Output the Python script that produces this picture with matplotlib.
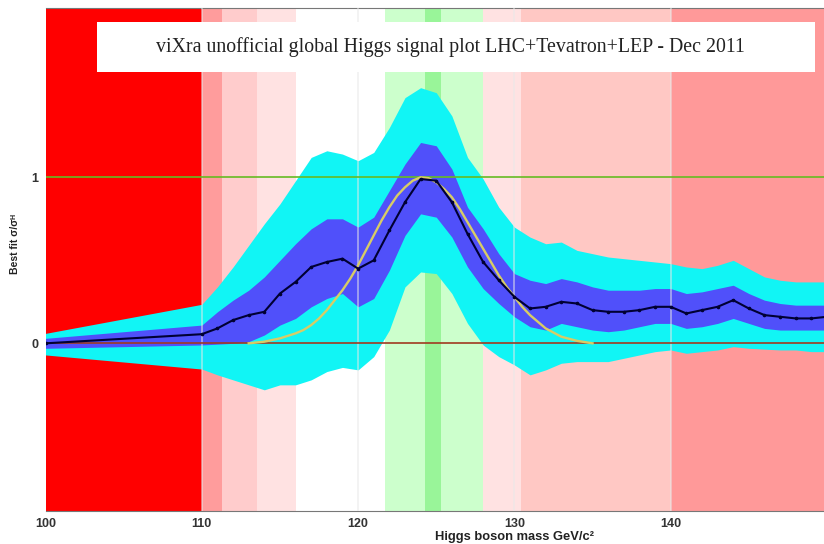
import matplotlib
matplotlib.use('Agg')
import matplotlib.pyplot as plt
from matplotlib.patches import Rectangle

# Higgs mass points [GeV]
mass = [100, 110, 111, 112, 113, 114, 115, 116, 117, 118, 119, 120,
        121, 122, 123, 124, 125, 126, 127, 128, 129, 130, 131, 132,
        133, 134, 135, 136, 137, 138, 139, 140, 141, 142, 143, 144,
        145, 146, 147, 148, 149, 150]

best_fit = [0.0, 0.055, 0.09, 0.14, 0.17, 0.19, 0.30, 0.37, 0.46, 0.49,
            0.51, 0.45, 0.50, 0.68, 0.85, 0.99, 0.98, 0.85, 0.66, 0.49,
            0.38, 0.28, 0.21, 0.22, 0.25, 0.24, 0.20, 0.19, 0.19, 0.20,
            0.22, 0.22, 0.18, 0.20, 0.22, 0.26, 0.21, 0.17, 0.16, 0.15,
            0.15, 0.16]

sig1_hi = [0.03, 0.11, 0.19, 0.26, 0.32, 0.40, 0.50, 0.60, 0.69, 0.75,
           0.75, 0.70, 0.76, 0.92, 1.08, 1.21, 1.19, 1.05, 0.82, 0.69,
           0.54, 0.42, 0.38, 0.36, 0.39, 0.37, 0.34, 0.32, 0.32, 0.32,
           0.33, 0.33, 0.30, 0.31, 0.33, 0.35, 0.30, 0.26, 0.24, 0.23,
           0.23, 0.23]

sig1_lo = [-0.03, -0.01, -0.005, 0.0, 0.01, 0.05, 0.11, 0.15, 0.22, 0.27,
           0.30, 0.22, 0.27, 0.44, 0.65, 0.78, 0.76, 0.64, 0.46, 0.33,
           0.24, 0.16, 0.10, 0.08, 0.12, 0.10, 0.08, 0.07, 0.08, 0.10,
           0.12, 0.12, 0.09, 0.10, 0.12, 0.15, 0.12, 0.09, 0.08, 0.08,
           0.08, 0.08]

sig2_hi = [0.06, 0.235, 0.34, 0.46, 0.59, 0.72, 0.84, 0.98, 1.12, 1.16,
           1.14, 1.10, 1.15, 1.30, 1.48, 1.54, 1.51, 1.37, 1.12, 0.99,
           0.82, 0.70, 0.64, 0.60, 0.61, 0.56, 0.54, 0.52, 0.51, 0.50,
           0.49, 0.48, 0.46, 0.45, 0.47, 0.50, 0.45, 0.40, 0.38, 0.37,
           0.37, 0.37]

sig2_lo = [-0.07, -0.155, -0.19, -0.22, -0.25, -0.28, -0.25, -0.25, -0.22,
           -0.17, -0.145, -0.16, -0.08, 0.08, 0.34, 0.43, 0.42, 0.30, 0.12,
           -0.01, -0.08, -0.13, -0.19, -0.16, -0.12, -0.11, -0.11, -0.11,
           -0.09, -0.07, -0.05, -0.04, -0.06, -0.05, -0.04, -0.02, -0.03,
           -0.035, -0.04, -0.04, -0.05, -0.05]

# expected signal shape for a 124 GeV Higgs
sig_mass = [113, 114, 115, 116, 116.5, 117, 117.5, 118, 118.5, 119, 119.5,
            120, 120.5, 121, 121.5, 122, 122.5, 123, 123.5, 124, 124.5,
            125, 125.5, 126, 126.5, 127, 127.5, 128, 128.5, 129, 129.5,
            130, 130.5, 131, 131.5, 132, 133, 134, 135]
sig_shape = [0.0, 0.01, 0.03, 0.06, 0.08, 0.11, 0.15, 0.20, 0.26, 0.32,
             0.39, 0.47, 0.56, 0.65, 0.74, 0.82, 0.89, 0.94, 0.98, 1.0,
             0.995, 0.97, 0.93, 0.88, 0.81, 0.73, 0.65, 0.57, 0.49, 0.41,
             0.34, 0.28, 0.22, 0.17, 0.13, 0.09, 0.04, 0.015, 0.0]

# exclusion shading
band_edges = [100, 110, 111.3, 113.5, 116.0, 121.7, 124.3, 125.3, 128.0,
              130.4, 140.0, 150]
band_colors = ['#ff0000', '#ff9c9c', '#ffcccc', '#ffe2e2', '#ffffff',
               '#ccffcc', '#99f599', '#ccffcc', '#ffe2e2', '#ffc8c4',
               '#ff9999']

xticks = [100, 110, 120, 130, 140]
yticks = [0, 1]

title = 'viXra unofficial global Higgs signal plot LHC+Tevatron+LEP - Dec 2011'

plt.rcParams['font.family'] = ['Liberation Sans', 'DejaVu Sans']

fig = plt.figure(figsize=(8.24, 5.44), dpi=100)
ax = fig.add_axes([45.5 / 824, 33 / 544, 781.5 / 824, 503 / 544])

for lo, hi, c in zip(band_edges[:-1], band_edges[1:], band_colors):
    ax.axvspan(lo, hi, color=c, lw=0, zorder=0)

ax.fill_between(mass, sig2_lo, sig2_hi, color='#11f5f5', lw=0, zorder=2)
ax.fill_between(mass, sig1_lo, sig1_hi, color='#5050fa', lw=0, zorder=3)

# faint grid drawn over the bands
for t in xticks[1:]:
    ax.axvline(t, color='#e8e8e8', lw=1.2, alpha=0.6, zorder=3.5)

ax.axhline(1, color='#66bb22', lw=1.2, zorder=4)
ax.axhline(0, color='#a03a20', lw=1.2, zorder=4)

ax.plot(sig_mass, sig_shape, color='#d8cc66', lw=1.7, zorder=5)
ax.plot(mass, best_fit, color='#000033', lw=1.5, marker='o', ms=1.6,
        zorder=6)

ax.set_xlim(100, 150)
ax.set_ylim(-1.01, 2.02)
ax.set_xticks(xticks)
ax.set_yticks(yticks)
ax.tick_params(length=0, labelsize=9, labelcolor='#333333', pad=5)
for lab in ax.get_xticklabels() + ax.get_yticklabels():
    lab.set_fontweight('bold')

for side in ['left', 'right']:
    ax.spines[side].set_visible(False)
for side in ['top', 'bottom']:
    ax.spines[side].set_color('#777777')
    ax.spines[side].set_linewidth(0.8)

ax.set_xlabel('Higgs boson mass GeV/c²', fontsize=9.3, fontweight='bold',
              color='#222222')
ax.xaxis.set_label_coords((130 - 100) / 50, -0.039)
ax.set_ylabel('Best fit σ/σᴴ', fontsize=7.5, fontweight='bold',
              color='#222222')
ax.yaxis.set_label_coords(-0.033, 0.53)

ax.add_patch(Rectangle((0.066, 0.873), 0.919, 0.099, transform=ax.transAxes,
                       facecolor='white', edgecolor='none', zorder=7))
ax.text(0.518, 0.922, title, transform=ax.transAxes, ha='center',
        va='center', fontsize=14.3, family='Liberation Serif',
        color='#222222', zorder=8)

fig.savefig('out.png', dpi=100)
